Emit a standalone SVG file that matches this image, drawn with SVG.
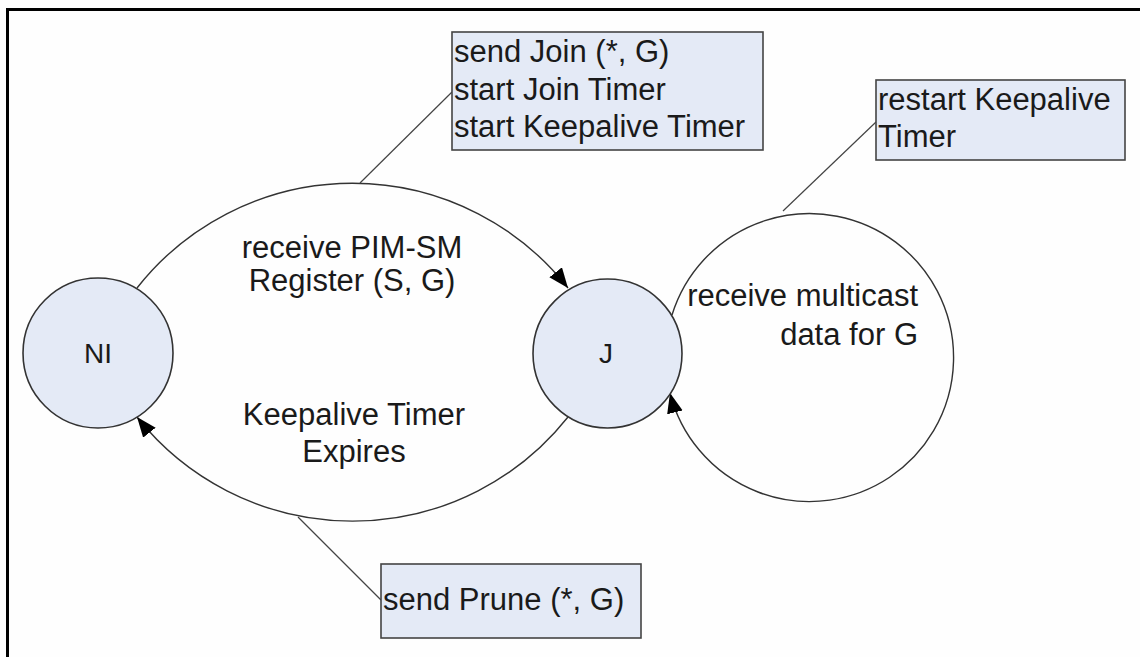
<svg xmlns="http://www.w3.org/2000/svg" width="1140" height="657" viewBox="0 0 1140 657">
  <defs>
    <marker id="arrow" markerUnits="userSpaceOnUse" markerWidth="22" markerHeight="18" refX="20" refY="8" orient="auto">
      <path d="M0,0 L20,8 L0,16 z" fill="#000"/>
    </marker>
    <style>
      .state { fill: #e4eaf6; stroke: #333; stroke-width: 1.6; }
      .note { fill: #e4eaf6; stroke: #444; stroke-width: 1.6; }
      .edge { fill: none; stroke: #333; stroke-width: 1.4; }
      .lead { fill: none; stroke: #444; stroke-width: 1.2; }
      text { font-family: "Liberation Sans", Arial, sans-serif; font-size: 31px; fill: #1a1a1a; }
      text.name { font-size: 28px; text-anchor: middle; }
      .mid { text-anchor: middle; }
      .end { text-anchor: end; }
    </style>
  </defs>

  <rect x="0" y="0" width="1140" height="657" fill="#fefefe"/>

  <!-- outer frame (top and left edges) -->
  <path d="M6,9.5 H1140 M7.5,8 V657" fill="none" stroke="#000" stroke-width="3"/>

  <!-- transitions -->
  <g id="connectors">
    <path class="edge" d="M137,288 A274,274 0 0 1 568,288" marker-end="url(#arrow)"/>
    <path class="edge" d="M568,417 A275,275 0 0 1 137,417" marker-end="url(#arrow)"/>
    <path class="edge" d="M672,315 A144,144 0 1 1 670,393" marker-end="url(#arrow)"/>
    <!-- note leaders -->
    <path class="lead" d="M452,92 L360,183"/>
    <path class="lead" d="M876,122 L783,211"/>
    <path class="lead" d="M381,600 L298,517"/>
  </g>

  <!-- transition labels -->
  <g id="label-register">
    <text class="mid" x="352" y="258">receive PIM-SM</text>
    <text class="mid" x="352" y="291">Register (S, G)</text>
  </g>
  <g id="label-expires">
    <text class="mid" x="354" y="425">Keepalive Timer</text>
    <text class="mid" x="354" y="462">Expires</text>
  </g>
  <g id="label-data">
    <text class="end" x="918" y="306">receive multicast</text>
    <text class="end" x="918" y="345">data for G</text>
  </g>

  <!-- states -->
  <g id="state-NI">
    <circle class="state" cx="98" cy="353" r="75"/>
    <text class="name" x="98" y="363">NI</text>
  </g>
  <g id="state-J">
    <circle class="state" cx="607.5" cy="353.5" r="74.5"/>
    <text class="name" x="606" y="363">J</text>
  </g>

  <!-- action notes -->
  <g id="note-join">
    <rect class="note" x="452" y="32" width="311" height="118"/>
    <text x="454" y="62">send Join (*, G)</text>
    <text x="454" y="99.5">start Join Timer</text>
    <text x="454" y="137">start Keepalive Timer</text>
  </g>
  <g id="note-keepalive">
    <rect class="note" x="876" y="80" width="249" height="80"/>
    <text x="878" y="110">restart Keepalive</text>
    <text x="878" y="147">Timer</text>
  </g>
  <g id="note-prune">
    <rect class="note" x="381" y="564" width="260" height="74"/>
    <text x="383" y="610">send Prune (*, G)</text>
  </g>
</svg>
